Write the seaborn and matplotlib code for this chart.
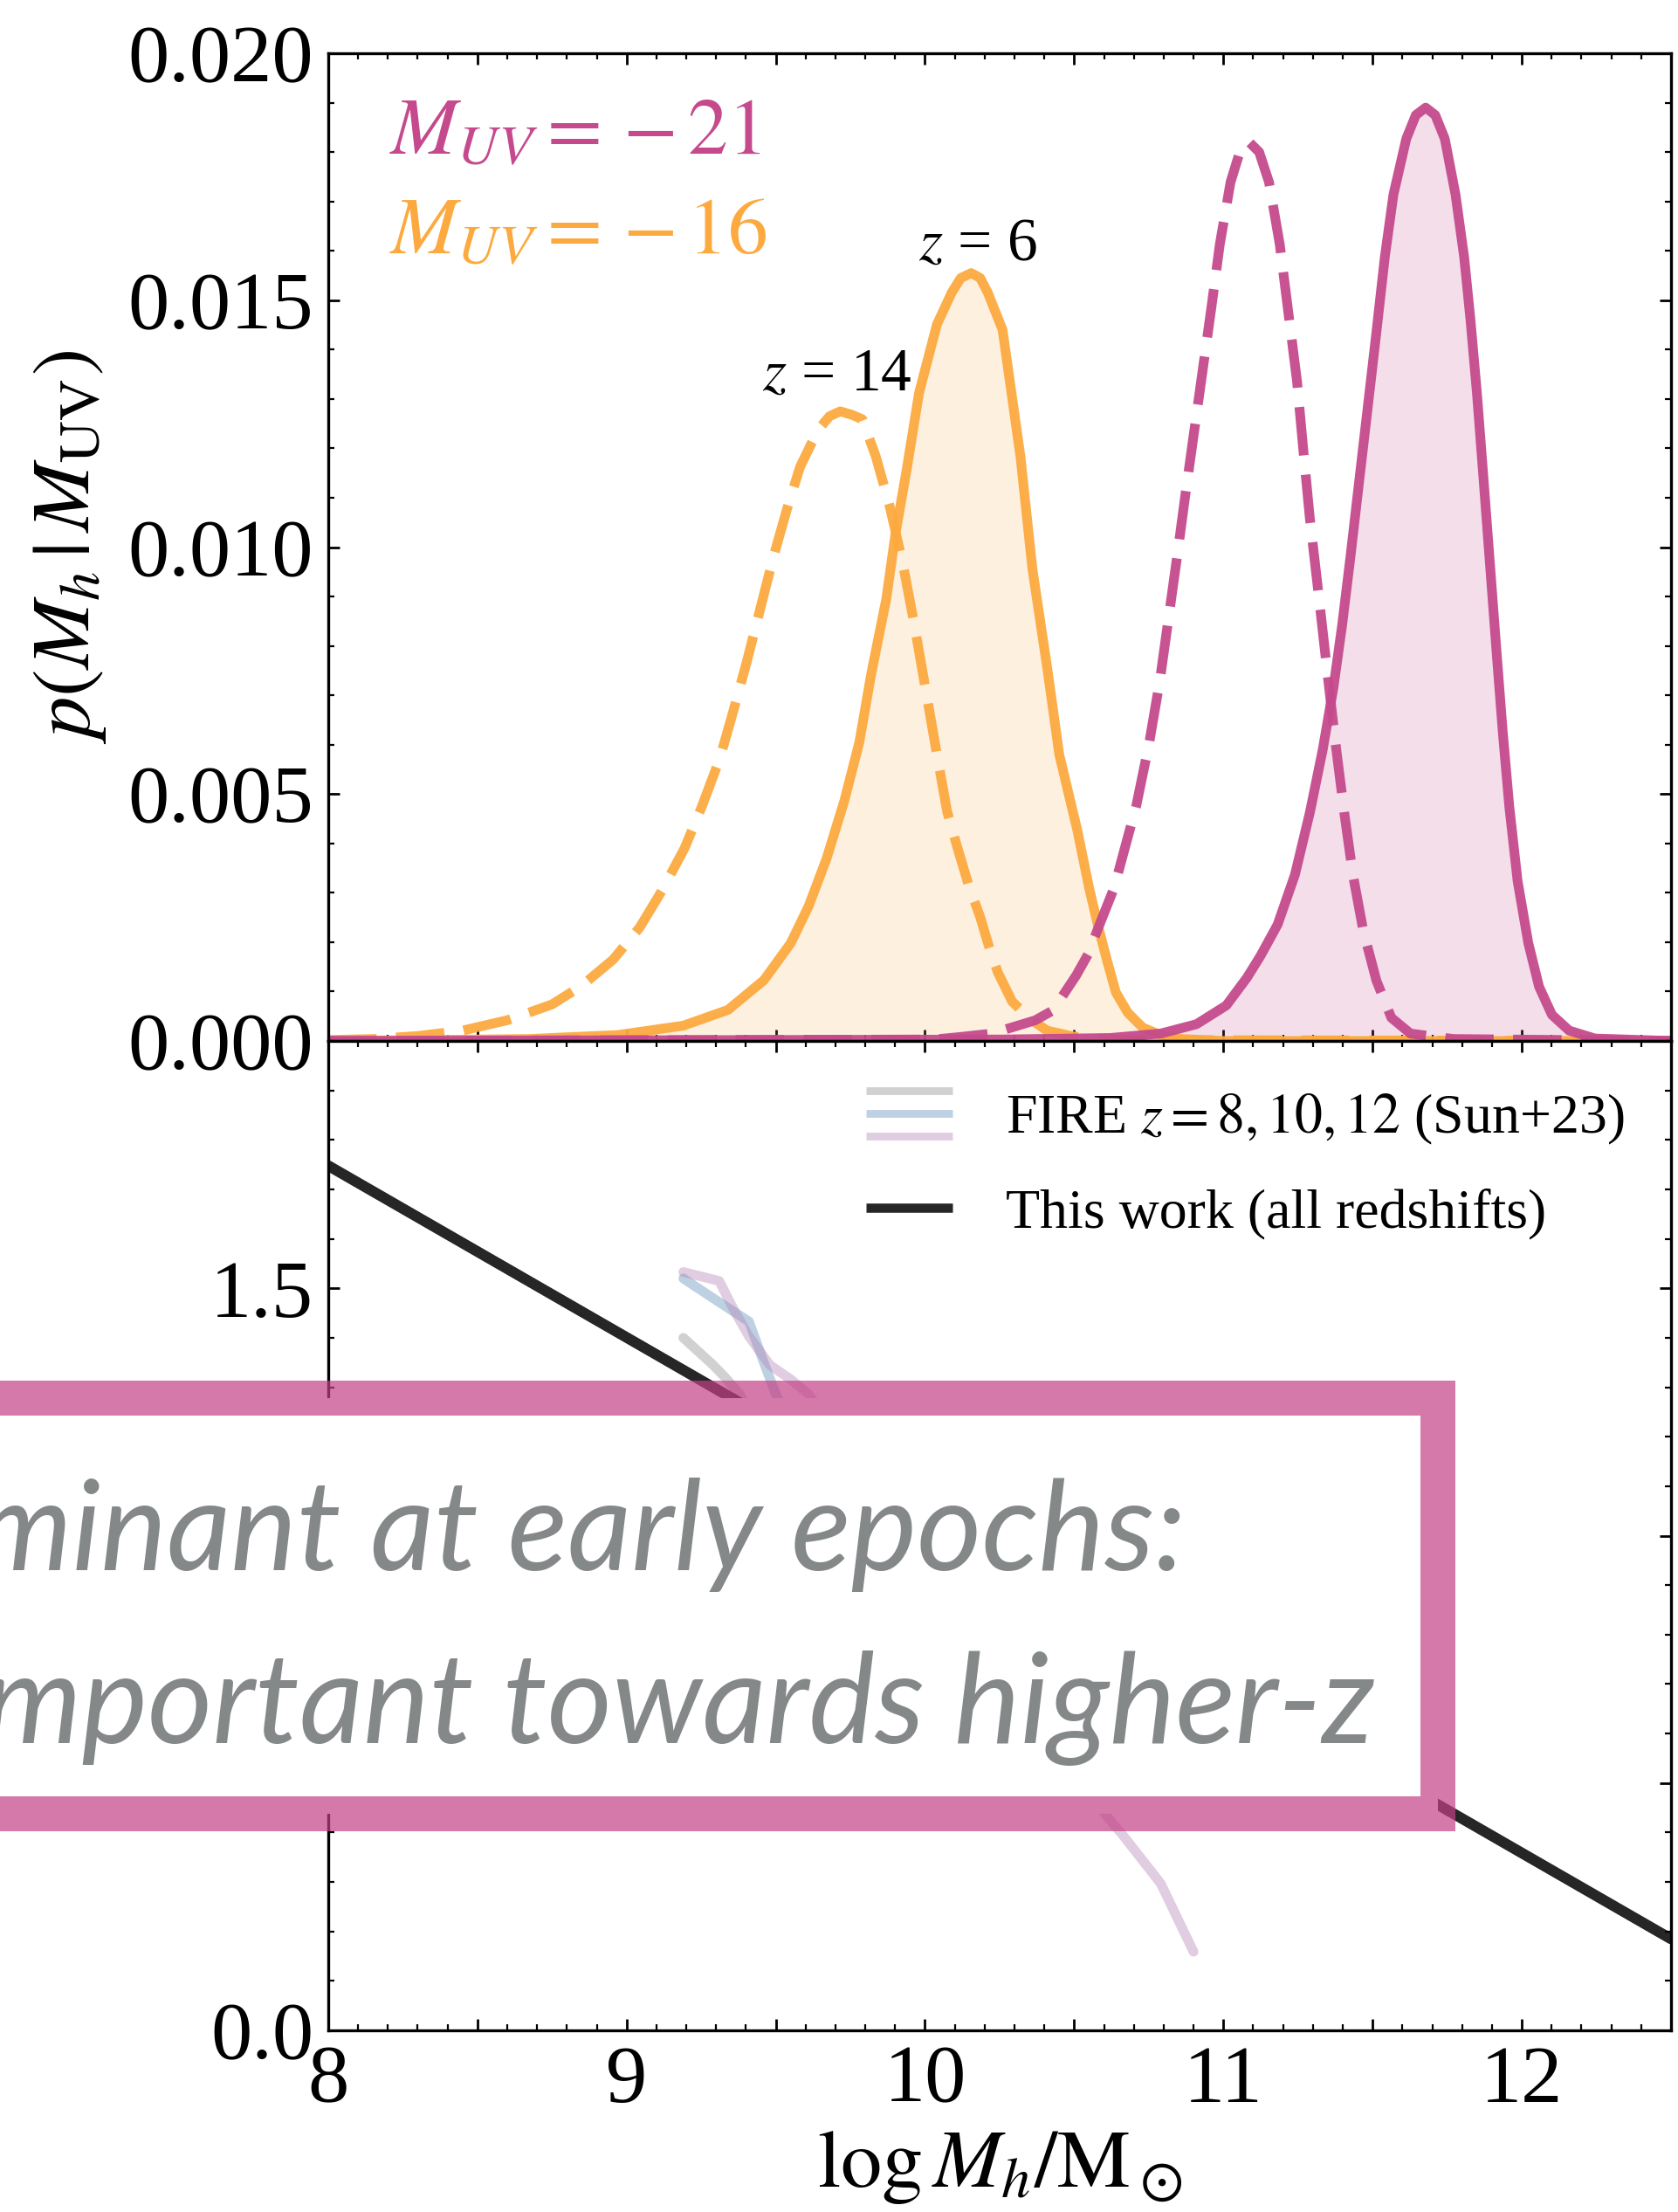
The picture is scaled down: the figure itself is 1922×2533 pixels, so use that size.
import numpy as np
import pandas as pd
import matplotlib
matplotlib.use('Agg')
import matplotlib.pyplot as plt
import seaborn as sns
from matplotlib.lines import Line2D
from matplotlib.patches import Rectangle
from matplotlib.legend_handler import HandlerBase
from matplotlib.ticker import MultipleLocator, FuncFormatter

# ---- top panel: p(M_h | M_UV) ----
x_m16_z6 = [8.0, 8.67, 8.97, 9.19, 9.34, 9.46, 9.55, 9.61, 9.67, 9.73, 9.78, 9.82, 9.87, 9.90,
            9.94, 9.98, 10.04, 10.09, 10.12, 10.155, 10.185, 10.21, 10.26, 10.32, 10.36, 10.41,
            10.45, 10.51, 10.55, 10.58, 10.61, 10.64, 10.68, 10.73, 10.79, 10.86, 11.0, 12.5]
y_m16_z6 = [0.0, 0.00004, 0.00012, 0.00031, 0.00063, 0.00123, 0.00198, 0.00273, 0.00369, 0.00487,
            0.00605, 0.00744, 0.00894, 0.01023, 0.01162, 0.01312, 0.01451, 0.01516, 0.01545, 0.01555,
            0.01545, 0.01516, 0.01440, 0.01183, 0.00956, 0.00754, 0.00580, 0.00428, 0.00310, 0.00233,
            0.00163, 0.00098, 0.00057, 0.00027, 0.00012, 0.00004, 0.0, 0.0]

x_m16_z14 = [8.0, 8.15, 8.30, 8.45, 8.60, 8.75, 8.85, 8.955, 9.044, 9.119, 9.194, 9.253, 9.313,
             9.358, 9.402, 9.447, 9.492, 9.537, 9.581, 9.641, 9.680, 9.716, 9.755, 9.790, 9.835,
             9.880, 9.925, 9.962, 9.999, 10.036, 10.074, 10.107, 10.146, 10.185, 10.214, 10.244,
             10.292, 10.351, 10.409, 10.497, 10.65, 12.5]
y_m16_z14 = [0.00002, 0.00004, 0.0001, 0.00021, 0.00042, 0.00074, 0.00112, 0.00165, 0.0023, 0.00305,
             0.0039, 0.00476, 0.00573, 0.00669, 0.00766, 0.00873, 0.0098, 0.01076, 0.01162, 0.01237,
             0.01265, 0.01275, 0.01268, 0.01259, 0.01184, 0.01087, 0.00969, 0.00851, 0.00723, 0.00594,
             0.00465, 0.00395, 0.00316, 0.00251, 0.00192, 0.00139, 0.0008, 0.00045, 0.00021, 0.00009,
             0.00002, 0.0]

x_m21_z6 = [8.0, 10.26, 10.62, 10.79, 10.91, 11.01, 11.08, 11.125, 11.182, 11.24, 11.29, 11.333,
            11.369, 11.398, 11.426, 11.455, 11.484, 11.513, 11.541, 11.57, 11.613, 11.645, 11.678,
            11.71, 11.742, 11.778, 11.807, 11.828, 11.85, 11.871, 11.893, 11.915, 11.936, 11.958,
            11.986, 12.022, 12.058, 12.101, 12.159, 12.245, 12.5]
y_m21_z6 = [0.0, 0.00003, 0.00006, 0.00015, 0.00034, 0.00072, 0.00129, 0.00173, 0.00236, 0.00337,
            0.00463, 0.0059, 0.00716, 0.00842, 0.00981, 0.01133, 0.01284, 0.01436, 0.01587, 0.01714,
            0.01827, 0.01875, 0.01890, 0.01875, 0.01827, 0.01714, 0.01587, 0.01461, 0.0131, 0.01145,
            0.00969, 0.00792, 0.00628, 0.00476, 0.00324, 0.00198, 0.0011, 0.00053, 0.00021, 0.00005,
            0.0]

x_m21_z14 = [8.0, 10.03, 10.117, 10.224, 10.37, 10.429, 10.507, 10.546, 10.595, 10.634, 10.665,
             10.708, 10.751, 10.787, 10.816, 10.845, 10.873, 10.902, 10.931, 10.960, 10.988, 11.024,
             11.055, 11.085, 11.12, 11.153, 11.189, 11.218, 11.247, 11.268, 11.290, 11.319, 11.347,
             11.376, 11.405, 11.434, 11.469, 11.513, 11.563, 11.627, 11.771, 12.5]
y_m21_z14 = [0.0, 0.00003, 0.00008, 0.00015, 0.00042, 0.00062, 0.00133, 0.00175, 0.00251, 0.0031,
             0.0038, 0.00476, 0.00602, 0.00729, 0.00855, 0.00981, 0.01108, 0.01234, 0.0136, 0.01486,
             0.01613, 0.01739, 0.0180, 0.01821, 0.0180, 0.01739, 0.01613, 0.01474, 0.01335, 0.01196,
             0.01057, 0.00905, 0.00754, 0.00602, 0.00463, 0.00337, 0.00223, 0.00122, 0.00047, 0.00015,
             0.00004, 0.0]

# ---- bottom panel ----
x_fire_z8 = [9.19, 9.29, 9.33, 9.38, 9.45]
y_fire_z8 = [1.40, 1.345, 1.32, 1.285, 1.20]
x_fire_z10 = [9.19, 9.29, 9.41, 9.46, 9.50, 9.58]
y_fire_z10 = [1.52, 1.48, 1.433, 1.35, 1.286, 1.18]
x_fire_z12 = [9.19, 9.31, 9.36, 9.41, 9.48, 9.55, 9.61, 10.61, 10.66, 10.79, 10.90]
y_fire_z12 = [1.533, 1.515, 1.456, 1.403, 1.345, 1.316, 1.286, 0.432, 0.397, 0.297, 0.159]
x_this = [8.0, 12.5]
y_this = [1.748, 0.185]

magenta = '#C54A8D'
orange = '#FCAA40'
fire_cols = ['#8e8e8e', '#5c8ebb', '#b482b4']

sns.set_theme(style='ticks')
plt.rcParams['font.family'] = ['Liberation Serif', 'DejaVu Serif']
plt.rcParams.update({'mathtext.fontset': 'stix',
                     'text.color': 'black', 'axes.labelcolor': 'black',
                     'axes.edgecolor': 'black', 'xtick.color': 'black', 'ytick.color': 'black',
                     'axes.linewidth': 1.2})

fig = plt.figure(figsize=(9.61, 12.665), dpi=200)
ax1 = fig.add_axes([0.1956, 0.5294, 0.8002, 0.4465])
ax2 = fig.add_axes([0.1956, 0.0821, 0.8002, 0.4473], sharex=ax1)

lw = 4.0
dash = (0, (5, 2))
ax1.fill_between(x_m16_z6, y_m16_z6, color=orange, alpha=0.17, lw=0)
ax1.fill_between(x_m21_z6, y_m21_z6, color=magenta, alpha=0.18, lw=0)
sns.lineplot(x=x_m16_z6, y=y_m16_z6, ax=ax1, color=orange, linewidth=lw, alpha=0.95,
             solid_joinstyle='round')
sns.lineplot(x=x_m16_z14, y=y_m16_z14, ax=ax1, color=orange, linewidth=lw, alpha=0.95, linestyle=dash)
sns.lineplot(x=x_m21_z14, y=y_m21_z14, ax=ax1, color=magenta, linewidth=lw, alpha=0.95, linestyle=dash)
sns.lineplot(x=x_m21_z6, y=y_m21_z6, ax=ax1, color=magenta, linewidth=lw, alpha=0.95,
             solid_joinstyle='round')

ax1.text(10.178, 0.01611, r'$z$ = 6', ha='center', va='center', fontsize=25)
ax1.text(9.705, 0.01347, r'$z$ = 14', ha='center', va='center', fontsize=25)
ax1.text(0.0455, 0.898, r'$M_{UV}=\,{-}\,21$', transform=ax1.transAxes, color=magenta,
         fontsize=33, va='baseline')
ax1.text(0.0455, 0.798, r'$M_{UV}=\,{-}\,16$', transform=ax1.transAxes, color=orange,
         fontsize=33, va='baseline')

ax1.set_xlim(8, 12.5)
ax1.set_ylim(0, 0.02)
ax1.yaxis.set_major_locator(MultipleLocator(0.005))
ax1.yaxis.set_minor_locator(MultipleLocator(0.001))
ax1.yaxis.set_major_formatter(FuncFormatter(lambda v, p: f'{v:.3f}'))
ax1.set_ylabel(r'$p(M_h\,|\,M_{\rm UV})$', fontsize=34, labelpad=8)
ax1.set_xlabel('')
ax1.tick_params(labelbottom=False)

# bottom panel
for xs, ys, c in zip([x_fire_z8, x_fire_z10, x_fire_z12], [y_fire_z8, y_fire_z10, y_fire_z12], fire_cols):
    sns.lineplot(x=xs, y=ys, ax=ax2, color=c, linewidth=4.0, alpha=0.4, sort=False)
sns.lineplot(x=x_this, y=y_this, ax=ax2, color='black', linewidth=4.4, alpha=0.85)

ax2.set_ylim(0, 2.0)
ax2.set_yticks([0, 0.5, 1.0, 1.5])
ax2.yaxis.set_minor_locator(MultipleLocator(0.1))
ax2.yaxis.set_major_formatter(FuncFormatter(lambda v, p: f'{v:.1f}'))
ax2.xaxis.set_major_locator(MultipleLocator(0.5))
ax2.xaxis.set_minor_locator(MultipleLocator(0.1))
ax2.xaxis.set_major_formatter(FuncFormatter(lambda v, p: f'{v:.0f}' if abs(v - round(v)) < 1e-6 else ''))
ax2.set_xlabel(r'$\log M_h/{\rm M}_\odot$', fontsize=34, labelpad=4)
ax2.set_ylabel('')
ax2.set_xlim(8, 12.5)

for ax in (ax1, ax2):
    ax.tick_params(which='both', direction='in', top=True, right=True, labelsize=34, pad=6)
    ax.tick_params(which='major', length=4.8, width=1.0)
    ax.tick_params(which='minor', length=2.6, width=0.8)
    for s in ax.spines.values():
        s.set_linewidth(1.2)


class StackHandler(HandlerBase):
    def create_artists(self, legend, orig_handle, xdescent, ydescent, width, height, fontsize, trans):
        arts = []
        for i, h in enumerate(orig_handle):
            yy = height / 2 - ydescent + (1 - i) * 9.4
            ln = Line2D([-xdescent, width - xdescent], [yy, yy], color=h.get_color(),
                        alpha=h.get_alpha(), lw=h.get_linewidth(), solid_capstyle='butt')
            ln.set_transform(trans)
            arts.append(ln)
        return arts


fire_handle = tuple(Line2D([], [], color=c, lw=3.2, alpha=0.4) for c in fire_cols)
this_handle = Line2D([], [], color='black', lw=3.8, alpha=0.85, solid_capstyle='butt')
ax2.legend([fire_handle, this_handle],
           [r'FIRE $z = 8, 10, 12$ (Sun+23)', 'This work (all redshifts)'],
           handler_map={tuple: StackHandler()}, loc='upper right',
           bbox_to_anchor=(0.965, 0.948), frameon=False, fontsize=23,
           handlelength=1.55, handletextpad=0.95, labelspacing=0.75,
           borderpad=0, borderaxespad=0)

# slide overlay box on top of the figure
fig.patches.append(Rectangle((-0.05, 0.180), 0.907, 0.188, transform=fig.transFigure,
                             facecolor='white', edgecolor=(194 / 255, 65 / 255, 134 / 255, 0.7),
                             lw=14.4, zorder=10))
fig.text(0.7066, 0.2902, 'minant at early epochs:', ha='right', va='baseline',
         fontsize=51.5, family=['Lato', 'DejaVu Sans'], style='italic', color='#858889', zorder=11)
fig.text(0.8195, 0.2120, 'mportant towards higher-z', ha='right', va='baseline',
         fontsize=51.5, family=['Lato', 'DejaVu Sans'], style='italic', color='#858889', zorder=11)

fig.savefig('out.png', dpi=200)
